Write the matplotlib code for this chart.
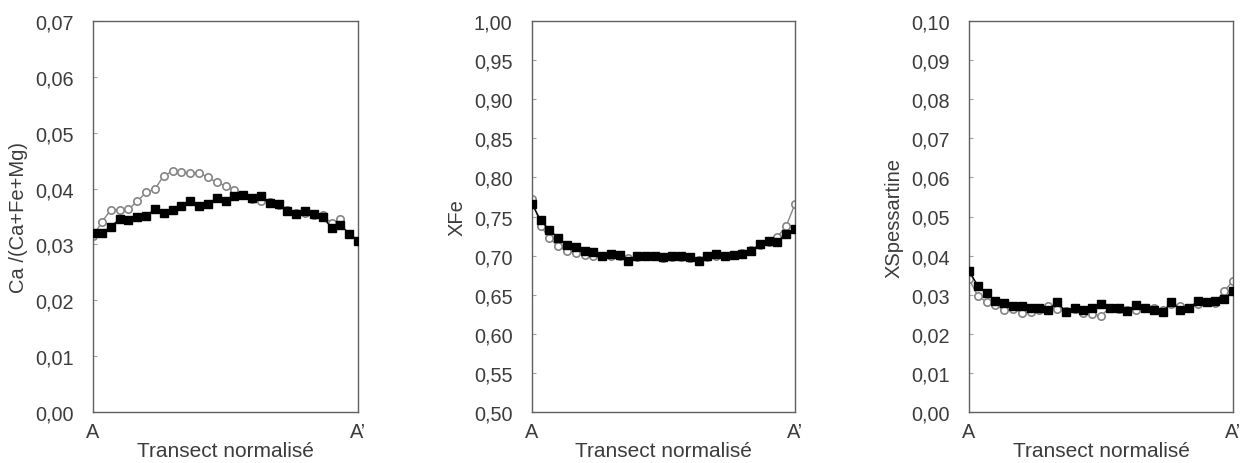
import matplotlib
matplotlib.use("Agg")
import matplotlib.pyplot as plt
from matplotlib.ticker import FuncFormatter
import numpy as np

plt.rcParams['font.family'] = ['Liberation Sans', 'DejaVu Sans']

# Ca/(Ca+Fe+Mg) - profil A-A'
ca_noir = [0.0320, 0.0320, 0.0332, 0.0345, 0.0344, 0.0349, 0.0351, 0.0363, 0.0356, 0.0362,
           0.0368, 0.0377, 0.0369, 0.0372, 0.0384, 0.0378, 0.0387, 0.0388, 0.0384, 0.0387,
           0.0375, 0.0372, 0.0360, 0.0354, 0.0359, 0.0354, 0.0350, 0.0329, 0.0335, 0.0319,
           0.0307]
ca_gris = [0.0315, 0.0340, 0.0362, 0.0362, 0.0363, 0.0377, 0.0393, 0.0399, 0.0423, 0.0431,
           0.0430, 0.0428, 0.0428, 0.0420, 0.0411, 0.0405, 0.0398, 0.0388, 0.0381, 0.0377,
           0.0376, 0.0370, 0.0362, 0.0357, 0.0356, 0.0353, 0.0352, 0.0338, 0.0346]

# XFe
fe_noir = [0.766, 0.745, 0.733, 0.722, 0.7135, 0.711, 0.706, 0.705, 0.700, 0.702,
           0.701, 0.6935, 0.699, 0.700, 0.700, 0.698, 0.700, 0.699, 0.698, 0.6935,
           0.699, 0.702, 0.700, 0.701, 0.702, 0.706, 0.715, 0.719, 0.718, 0.7275,
           0.734]
fe_gris = [0.772, 0.738, 0.722, 0.712, 0.706, 0.703, 0.701, 0.700, 0.699, 0.700,
           0.699, 0.697, 0.698, 0.699, 0.699, 0.697, 0.698, 0.698, 0.697, 0.695,
           0.698, 0.700, 0.700, 0.701, 0.703, 0.707, 0.713, 0.717, 0.724, 0.738,
           0.766]

# XSpessartine
sp_noir = [0.0361, 0.0323, 0.0304, 0.0283, 0.0279, 0.0272, 0.0270, 0.0267, 0.0267, 0.0261,
           0.0281, 0.0257, 0.0267, 0.0261, 0.0267, 0.0276, 0.0267, 0.0265, 0.0258, 0.0274,
           0.0265, 0.0261, 0.0255, 0.0281, 0.0261, 0.0267, 0.0283, 0.0281, 0.0284, 0.0289,
           0.0310]
sp_gris = [0.0340, 0.0297, 0.0281, 0.0274, 0.0260, 0.0264, 0.0254, 0.0257, 0.0260, 0.0270,
           0.0263, 0.0258, 0.0263, 0.0254, 0.0250, 0.0246, 0.0267, 0.0263, 0.0260, 0.0260,
           0.0265, 0.0267, 0.0260, 0.0276, 0.0272, 0.0265, 0.0276, 0.0281, 0.0280, 0.0310,
           0.0335]

# etiquettes
ylabels = ["Ca /(Ca+Fe+Mg)", "XFe", "XSpessartine"]
ylims = [(0, 0.07), (0.5, 1.0), (0, 0.10)]
ysteps = [0.01, 0.05, 0.01]
xticklabels = ["A", "A\u2019"]
xlabel = "Transect normalisé"

TXT = '#3c3c3c'
AXE = '#606060'
GRIS = '#858585'


def xnorm(n, total=31):
    # position normalisee le long du transect
    return np.arange(n) / (total - 1)


fig = plt.figure(figsize=(12.42, 4.64), dpi=100)
lefts = [0.0749, 0.4283, 0.7802]
widths = [0.2134, 0.2118, 0.2126]

series = [(ca_noir, ca_gris), (fe_noir, fe_gris), (sp_noir, sp_gris)]

for i in range(3):
    ax = fig.add_axes([lefts[i], 0.1099, widths[i], 0.8427])
    noir, gris = series[i]
    ax.plot(xnorm(len(gris)), gris, '-o', color=GRIS, lw=1.0, ms=5.3,
            mfc='white', mec=GRIS, mew=1.2, zorder=2)
    ax.plot(xnorm(len(noir)), noir, '-s', color='black', lw=1.0, ms=6,
            mfc='black', mec='black', zorder=3)
    ax.set_xlim(0, 1)
    ax.set_ylim(*ylims[i])
    lo, hi = ylims[i]
    ax.set_yticks(np.arange(lo, hi + ysteps[i] / 2, ysteps[i]))
    ax.yaxis.set_major_formatter(FuncFormatter(lambda v, p: ("%.2f" % v).replace('.', ',')))
    ax.set_xticks([0, 1])
    ax.set_xticklabels(xticklabels)
    ax.tick_params(axis='y', direction='in', length=3, width=0.8, color='#a0a0a0',
                   labelsize=14.3, labelcolor=TXT, pad=14)
    ax.tick_params(axis='x', length=0, labelsize=14.3, labelcolor=TXT, pad=7.5)
    for sp in ax.spines.values():
        sp.set_color(AXE)
        sp.set_linewidth(1.0)
    ax.set_ylabel(ylabels[i], fontsize=14.5, color=TXT, labelpad=5)
    ax.set_xlabel(xlabel, fontsize=15, color=TXT, labelpad=0)

fig.savefig("out.png", dpi=100)
